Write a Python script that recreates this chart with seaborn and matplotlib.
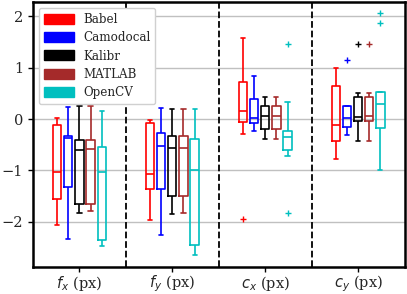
import matplotlib
matplotlib.use("Agg")
import matplotlib.pyplot as plt
from matplotlib.patches import Patch
import seaborn as sns
import pandas as pd

params = ["fx", "fy", "cx", "cy"]
param_labels = [r"$f_x$ (px)", r"$f_y$ (px)", r"$c_x$ (px)", r"$c_y$ (px)"]
tools = ["Babel", "Camodocal", "Kalibr", "MATLAB", "OpenCV"]
colors = ["#ff0000", "#0000ff", "#000000", "#a52a2a", "#00bfbf"]

# calibration errors per tool, one list of samples per parameter (fx, fy, cx, cy)
babel = [
    [-2.07, -1.80, -1.55, -1.30, -1.03, -0.60, -0.12, -0.05, 0.03],
    [-1.97, -1.60, -1.37, -1.20, -1.07, -0.60, -0.08, -0.05, -0.02],
    [-1.95, -0.29, -0.05, 0.05, 0.16, 0.40, 0.72, 1.20, 1.58],
    [-0.78, -0.60, -0.43, -0.30, -0.12, 0.30, 0.64, 0.80, 0.99],
]
camodocal = [
    [-2.33, -1.90, -1.33, -0.80, -0.36, -0.35, -0.33, 0.00, 0.23],
    [-2.25, -1.80, -1.37, -0.90, -0.52, -0.40, -0.28, 0.00, 0.21],
    [-0.23, -0.15, -0.07, 0.00, 0.03, 0.20, 0.40, 0.60, 0.83],
    [-0.30, -0.20, -0.16, -0.05, 0.03, 0.15, 0.26, 0.26, 1.15],
]
kalibr = [
    [-1.82, -1.70, -1.65, -1.10, -0.61, -0.50, -0.40, 0.00, 0.25],
    [-1.84, -1.70, -1.50, -1.00, -0.57, -0.45, -0.33, 0.00, 0.19],
    [-0.38, -0.30, -0.20, -0.05, 0.07, 0.15, 0.25, 0.35, 0.44],
    [-0.43, -0.20, -0.03, 0.00, 0.05, 0.20, 0.44, 0.50, 1.46],
]
matlab = [
    [-1.79, -1.70, -1.65, -1.10, -0.59, -0.50, -0.40, 0.00, 0.25],
    [-1.82, -1.70, -1.50, -1.00, -0.57, -0.45, -0.33, 0.00, 0.19],
    [-0.38, -0.30, -0.20, -0.05, 0.07, 0.15, 0.26, 0.35, 0.44],
    [-0.43, -0.20, -0.03, 0.00, 0.06, 0.20, 0.44, 0.50, 1.46],
]
opencv = [
    [-2.48, -2.40, -2.36, -1.70, -1.03, -0.80, -0.54, -0.20, 0.16],
    [-2.64, -2.55, -2.46, -1.70, -1.00, -0.70, -0.39, -0.10, 0.20],
    [-1.83, -0.72, -0.61, -0.50, -0.35, -0.30, -0.23, 0.34, 1.46],
    [-1.00, -0.50, -0.17, 0.10, 0.29, 0.40, 0.52, 1.87, 2.06],
]

rows = []
for tool, per_param in zip(tools, [babel, camodocal, kalibr, matlab, opencv]):
    for p, vals in zip(params, per_param):
        for v in vals:
            rows.append((p, tool, v))
df = pd.DataFrame(rows, columns=["param", "tool", "value"])

sns.set_style("white")
plt.rcParams["font.family"] = ["DejaVu Serif"]
plt.rcParams["mathtext.fontset"] = "dejavusans"

fig = plt.figure(figsize=(4.07, 2.94), dpi=100)
ax = fig.add_axes([0.081, 0.092, 0.913, 0.901])
ax.yaxis.grid(True, color="#c0c0c0", linewidth=1.0)
ax.set_axisbelow(True)

sns.boxplot(data=df, x="param", y="value", hue="tool", order=params,
            hue_order=tools, palette=dict(zip(tools, colors)), fill=False,
            width=0.6, gap=0.25, linewidth=1.2,
            flierprops=dict(marker="+", markersize=5), legend=False, ax=ax)

# separators between parameters
for xv in [0.5, 1.5, 2.5]:
    ax.axvline(xv, color="black", linestyle="--", linewidth=1.3)

ax.set_xlim(-0.5, 3.5)
ax.set_ylim(-2.88, 2.28)
ax.set_yticks([-2, -1, 0, 1, 2])
ax.set_xticks(range(len(params)))
ax.set_xticklabels(param_labels)
ax.set_xlabel("")
ax.set_ylabel("")
ax.tick_params(axis="both", direction="out", length=3.5, width=1, color="black",
               labelsize=10.5, bottom=True, left=True)
ax.tick_params(axis="x", labelsize=10.5, pad=1.5)
for s in ax.spines.values():
    s.set_color("black")
    s.set_linewidth(1.8)

handles = [Patch(facecolor=c, edgecolor=c) for c in colors]
ax.legend(handles, tools, loc="upper left", fontsize=8.6, handlelength=2.5,
          handleheight=0.9, labelspacing=0.45, framealpha=1.0, edgecolor="#d0d0d0")

fig.savefig("out.png", dpi=100)
